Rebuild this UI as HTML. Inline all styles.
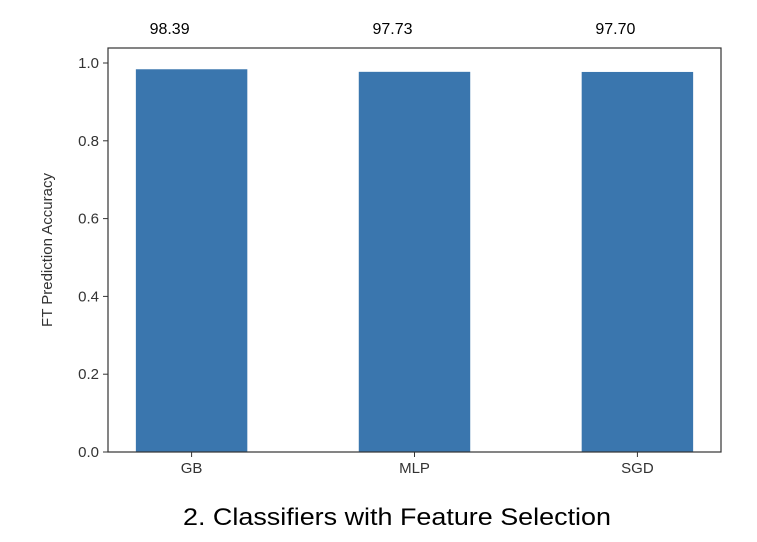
<!DOCTYPE html>
<html><head><meta charset="utf-8"><style>
body{margin:0;background:#fff;}
svg text{font-family:"Liberation Sans",sans-serif;}
</style></head><body>
<svg id="chart" width="757" height="537" xmlns="http://www.w3.org/2000/svg">
<g id="g"></g>
</svg>
<script>
const categories=["GB","MLP","SGD"];
const values=[0.9839,0.9773,0.9770];
const valueLabels=["98.39","97.73","97.70"];
const yTicks=[0,0.2,0.4,0.6,0.8,1.0];
const yTickLabels=["0.0","0.2","0.4","0.6","0.8","1.0"];
const L=108,R=721,T=48,B=452;
const xScale=i=>L+(i+0.375)/2.75*(R-L);
const yScale=v=>B-v*389;
const bw=0.5/2.75*(R-L);
const ns="http://www.w3.org/2000/svg";
const g=document.getElementById('g');
function mk(t,a){const e=document.createElementNS(ns,t);for(const k in a)e.setAttribute(k,a[k]);g.appendChild(e);return e;}
categories.forEach((c,i)=>{
 const r=mk('rect',{x:xScale(i)-bw/2,y:yScale(values[i]),width:bw,height:B-yScale(values[i]),fill:'#3a76ae'});
 
 
 const t=mk('text',{x:xScale(i)-22,y:34,'text-anchor':'middle','font-size':'16',fill:'#000'});
 t.textContent=valueLabels[i];
 
 
 const tk=mk('line',{x1:xScale(i),x2:xScale(i),y1:B,y2:B+5,stroke:'#333'});
 
 
 const xl=mk('text',{x:xScale(i),y:B+21,'text-anchor':'middle','font-size':'15',fill:'#333'});
 xl.textContent=c;
 
 
});
yTicks.forEach((v,i)=>{
 const tk=mk('line',{x1:L-5,x2:L,y1:yScale(v),y2:yScale(v),stroke:'#333'});
 
 
 const t=mk('text',{x:L-9,y:yScale(v)+5,'text-anchor':'end','font-size':'15',fill:'#333'});
 t.textContent=yTickLabels[i];
 
 
});
const fr=mk('rect',{x:L,y:T,width:R-L,height:B-T,fill:'none',stroke:'#333','stroke-width':1.2});


const yt=mk('text',{x:0,y:0,transform:'translate(52,250) rotate(-90)','text-anchor':'middle','font-size':'15',fill:'#333'});
yt.textContent='FT Prediction Accuracy';


const ct=mk('text',{x:397,y:525,'text-anchor':'middle','font-size':'24',fill:'#000',textLength:'428',lengthAdjust:'spacingAndGlyphs'});
ct.textContent='2. Classifiers with Feature Selection';


</script>
</body></html>
